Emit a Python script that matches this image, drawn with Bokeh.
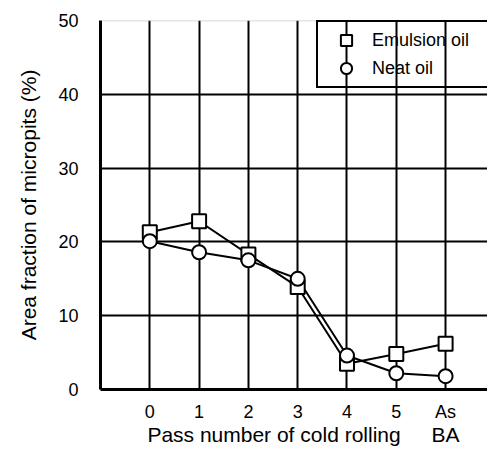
from bokeh.plotting import figure
from bokeh.models import (Range1d, FixedTicker, Span, Legend, LegendItem,
                          LinearAxis, ColumnDataSource)
from bokeh.embed import file_html
from bokeh.resources import INLINE

# data
passes = [0, 1, 2, 3, 4, 5, 6]
tick_labels = ["0", "1", "2", "3", "4", "5", "As"]
tick_labels_2nd_line = {6: "BA"}
x_title = "Pass number of cold rolling"
emulsion_oil = [21.3, 22.8, 18.3, 13.9, 3.5, 4.8, 6.2]
neat_oil = [20.1, 18.6, 17.5, 15.0, 4.6, 2.2, 1.8]
y_ticks = [0, 10, 20, 30, 40, 50]

FONT = "Liberation Sans"
TITLE_X = 2.52  # centre position of the x title (layout)

p = figure(width=487, height=455, output_backend="svg", toolbar_location=None,
           x_range=Range1d(-1, 6.85), y_range=Range1d(0, 50),
           min_border_left=100, min_border_right=0, min_border_top=20,
           min_border_bottom=66)
p.outline_line_color = None
p.background_fill_color = "white"

# axes
for ax in (p.xaxis[0], p.yaxis[0]):
    ax.axis_line_width = 3
    ax.axis_line_color = "black"
    ax.major_tick_line_color = None
    ax.minor_tick_line_color = None
    ax.major_label_text_font = FONT
    ax.major_label_text_font_size = "18px"
    ax.major_label_text_color = "black"

p.xaxis.ticker = FixedTicker(ticks=passes)
p.xaxis.major_label_overrides = {i: t for i, t in zip(passes, tick_labels)}
p.xaxis.major_label_standoff = 6

# second row under the x axis: "BA" and the axis title
ax2 = LinearAxis(ticker=FixedTicker(ticks=[TITLE_X] + list(tick_labels_2nd_line)),
                 major_label_overrides={TITLE_X: x_title, **tick_labels_2nd_line},
                 axis_line_color=None, major_tick_line_color=None,
                 minor_tick_line_color=None, major_label_standoff=-8,
                 major_label_text_font=FONT, major_label_text_font_size="21px",
                 major_label_text_color="black")
p.add_layout(ax2, "below")

p.yaxis.ticker = FixedTicker(ticks=y_ticks)
p.yaxis.major_label_standoff = 16
p.yaxis.axis_label = "Area fraction of micropits (%)"
p.yaxis.axis_label_text_font = FONT
p.yaxis.axis_label_text_font_size = "21px"
p.yaxis.axis_label_text_font_style = "normal"
p.yaxis.axis_label_text_color = "black"
p.yaxis.axis_label_standoff = 15

# grids
p.xgrid.ticker = FixedTicker(ticks=passes)
p.ygrid.ticker = FixedTicker(ticks=[10, 20, 30, 40])
for g in (p.xgrid[0], p.ygrid[0]):
    g.grid_line_color = "black"
    g.grid_line_width = 2
    g.grid_line_alpha = 1

p.add_layout(Span(location=50, dimension="width", line_color="#999999",
                  line_width=1.5, line_dash="1 1"))

src = ColumnDataSource(dict(x=passes, e=emulsion_oil, n=neat_oil))

p.line("x", "e", source=src, line_color="black", line_width=2)
p.line("x", "n", source=src, line_color="black", line_width=2)
r_e = p.scatter("x", "e", source=src, marker="square", size=14,
                fill_color="white", line_color="black", line_width=2)
r_n = p.scatter("x", "n", source=src, marker="circle", size=14,
                fill_color="white", line_color="black", line_width=2)

legend = Legend(items=[LegendItem(label="Emulsion oil", renderers=[r_e]),
                       LegendItem(label="Neat oil", renderers=[r_n])],
                location=(216, 301), orientation="vertical",
                glyph_width=48, glyph_height=28, spacing=0, padding=4,
                margin=0, label_standoff=2, label_width=150,
                label_text_font=FONT, label_text_font_size="18px",
                label_text_color="black",
                border_line_color="black", border_line_width=2,
                border_line_alpha=1, background_fill_alpha=0)
p.add_layout(legend, "center")

open("out.html", "w").write(file_html(p, INLINE))
